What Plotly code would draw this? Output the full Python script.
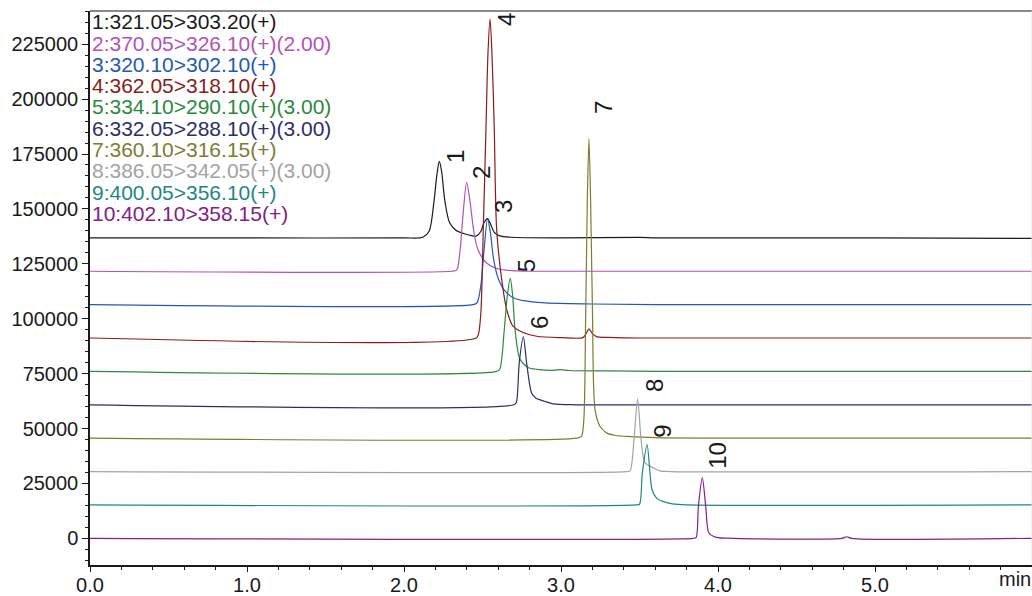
import plotly.graph_objects as go

# ---- channel names (legend text) and colours ----
names = [
    "1:321.05>303.20(+)",
    "2:370.05>326.10(+)(2.00)",
    "3:320.10>302.10(+)",
    "4:362.05>318.10(+)",
    "5:334.10>290.10(+)(3.00)",
    "6:332.05>288.10(+)(3.00)",
    "7:360.10>316.15(+)",
    "8:386.05>342.05(+)(3.00)",
    "9:400.05>356.10(+)",
    "10:402.10>358.15(+)",
]
colors = ["#1a1a1a", "#b352b3", "#2259b8", "#8a1c1c", "#2a8a3c",
          "#2d2d6b", "#7d7d32", "#a3a3a3", "#1f8782", "#842084"]

# baseline offsets of the stacked traces
offsets = [136800, 121600, 106400, 91200, 76000, 60800, 45600, 30400, 15200, 0]

# ---- trace key points: time (min) and intensity above baseline ----
t1 = [0, 1.0, 2.0, 2.12, 2.16, 2.19, 2.21, 2.225, 2.24, 2.26, 2.29, 2.33, 2.38, 2.43, 2.46, 2.49, 2.51, 2.532, 2.55, 2.575, 2.61, 2.68, 3.0, 3.5, 3.6, 4.0, 5.0, 6.0]
i1 = [0, 0, 0, 300, 3000, 16000, 29000, 34800, 30000, 17000, 7000, 3500, 2000, 1000, 800, 3000, 7000, 8800, 6500, 2500, 900, 300, 0, 200, 0, 0, 0, -200]

t2 = [0, 2.30, 2.335, 2.355, 2.375, 2.399, 2.42, 2.445, 2.47, 2.50, 2.53, 2.58, 2.65, 2.8, 6.0]
i2 = [0, 0, 500, 8000, 25000, 40500, 32000, 18000, 10000, 6000, 3500, 1500, 500, 0, 0]

t3 = [0, 2.44, 2.465, 2.49, 2.51, 2.532, 2.55, 2.57, 2.60, 2.64, 2.70, 2.76, 2.9, 3.2, 3.6, 6.0]
i3 = [0, 0, 800, 9000, 25000, 39000, 33000, 21000, 12000, 6500, 3000, 1800, 800, 300, 0, 0]

t4 = [0, 2.46, 2.475, 2.49, 2.505, 2.522, 2.535, 2.548, 2.56, 2.575, 2.59, 2.622, 2.654, 2.694, 2.758, 2.845, 3.0, 3.14, 3.16, 3.178, 3.20, 3.23, 3.3, 3.5, 6.0]
i4 = [0, 0, 2000, 12000, 50000, 95000, 130000, 145400, 130000, 95000, 49700, 26800, 13000, 5400, 2500, 800, 200, 200, 2000, 4200, 2000, 500, 300, 0, 0]

t5 = [0, 2.59, 2.61, 2.639, 2.658, 2.677, 2.692, 2.707, 2.739, 2.79, 2.85, 2.95, 3.0, 3.05, 3.3, 3.6, 6.0]
i5 = [0, 0, 1000, 19200, 34500, 42500, 34500, 19200, 5500, 1800, 900, 500, 800, 400, 200, 0, 0]

t6 = [0, 2.70, 2.715, 2.734, 2.76, 2.781, 2.813, 2.84, 2.866, 2.898, 2.95, 3.1, 6.0]
i6 = [0, 0, 1000, 19100, 31100, 19100, 5350, 3000, 2300, 1500, 450, 0, 0]

t7 = [0, 3.10, 3.13, 3.145, 3.157, 3.168, 3.178, 3.188, 3.20, 3.217, 3.248, 3.29, 3.35, 3.42, 3.6, 4.0, 6.0]
i7 = [0, 0, 800, 8000, 55000, 110000, 136300, 110000, 60000, 13000, 5400, 2400, 1200, 800, 200, 0, 0]

t8 = [0, 3.42, 3.44, 3.465, 3.488, 3.51, 3.535, 3.588, 3.63, 3.7, 6.0]
i8 = [0, 0, 300, 14650, 33100, 14650, 4000, 1700, 300, 0, 0]

t9 = [0, 3.48, 3.50, 3.518, 3.548, 3.567, 3.58, 3.61, 3.652, 3.71, 3.8, 6.0]
i9 = [0, 0, 300, 14500, 27500, 14500, 6900, 3000, 1500, 450, 0, 0]

t10 = [0, 3.84, 3.86, 3.875, 3.90, 3.922, 3.943, 3.99, 4.1, 4.79, 4.82, 4.85, 6.0]
i10 = [0, 0, 300, 14470, 27600, 14470, 2300, 450, 0, 0, 700, 0, 0]

times = [t1, t2, t3, t4, t5, t6, t7, t8, t9, t10]
intens = [i1, i2, i3, i4, i5, i6, i7, i8, i9, i10]

# peak number labels (time, response) placed above each peak
peak_labels = ["1", "2", "3", "4", "5", "6", "7", "8", "9", "10"]
peak_label_t = [2.325, 2.497, 2.637, 2.65, 2.781, 2.86, 3.274, 3.592, 3.65, 4.0]
peak_label_y = [173600, 166400, 150900, 236000, 124200, 98000, 196000, 69800, 48500, 37600]

FONT = "Liberation Sans, Arial, sans-serif"

fig = go.Figure()
for k in range(len(names)):
    fig.add_trace(go.Scatter(
        x=times[k],
        y=[offsets[k] + v for v in intens[k]],
        mode="lines",
        name=names[k],
        line=dict(color=colors[k], width=1.2, shape="spline", smoothing=0.8),
        showlegend=False,
        hoverinfo="skip",
    ))

annotations = []
# legend-style channel list at top left
legend_top_px = 21.7
legend_step_px = 21.3
plot_top_px, plot_bottom_px = 11, 565
for k, nm in enumerate(names):
    py = legend_top_px + legend_step_px * k
    annotations.append(dict(
        text=nm, xref="paper", yref="paper", x=0.0, y=(plot_bottom_px - py) / (plot_bottom_px - plot_top_px),
        xanchor="left", yanchor="middle", showarrow=False,
        font=dict(family=FONT, size=21, color=colors[k]),
    ))
for lab, tx, ty in zip(peak_labels, peak_label_t, peak_label_y):
    annotations.append(dict(
        text=lab, x=tx, y=ty, xref="x", yref="y", showarrow=False, textangle=-90,
        xanchor="center", yanchor="middle",
        font=dict(family=FONT, size=24, color="#1a1a1a"),
    ))
annotations.append(dict(
    text="min", xref="paper", yref="paper", x=0.982, y=-0.025,
    xanchor="center", yanchor="middle", showarrow=False,
    font=dict(family=FONT, size=20, color="#1a1a1a"),
))

fig.update_layout(
    width=1032, height=596,
    margin=dict(l=90, r=0, t=11, b=31, autoexpand=False),
    paper_bgcolor="white", plot_bgcolor="white",
    font=dict(family=FONT, size=20, color="#1a1a1a"),
    annotations=annotations,
    shapes=[
        dict(type="line", xref="paper", yref="paper", x0=0, x1=1, y0=1, y1=1,
             line=dict(color="#8a8a8a", width=2)),
        dict(type="line", xref="paper", yref="paper", x0=1, x1=1, y0=0, y1=1,
             line=dict(color="#e6e6e6", width=1)),
    ],
    xaxis=dict(
        range=[0, 6.0], dtick=1, tick0=0, tickformat=".1f", automargin=False,
        showgrid=False, zeroline=False, showline=True, linecolor="#1a1a1a", linewidth=1.5,
        ticks="outside", ticklen=5, tickwidth=1, tickcolor="#1a1a1a", ticklabelstandoff=-4,
        minor=dict(dtick=0.2, tick0=0, ticks="outside", ticklen=3, tickcolor="#1a1a1a", showgrid=False),
        tickfont=dict(family=FONT, size=20, color="#1a1a1a"),
    ),
    yaxis=dict(
        range=[-12160, 240120], dtick=25000, tick0=0, tickformat="d", automargin=False,
        showgrid=False, zeroline=False, showline=True, linecolor="#1a1a1a", linewidth=1.5,
        ticks="outside", ticklen=6, tickwidth=1, tickcolor="#1a1a1a",
        minor=dict(dtick=5000, tick0=0, ticks="outside", ticklen=3, tickcolor="#1a1a1a", showgrid=False),
        tickfont=dict(family=FONT, size=20, color="#1a1a1a"),
    ),
)

fig.write_html(
    "out.html",
    config={"displayModeBar": False},
    post_script="document.body.style.margin='0';document.body.style.overflow='hidden';",
)
